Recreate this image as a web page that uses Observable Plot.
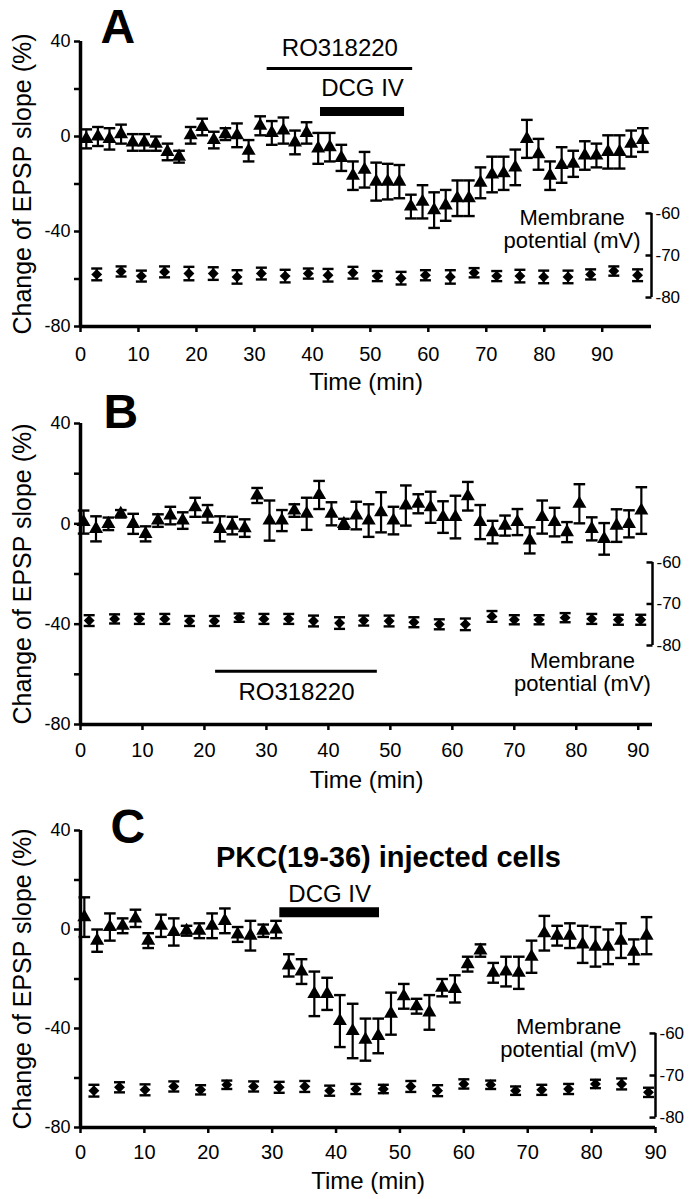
<!DOCTYPE html>
<html><head><meta charset="utf-8">
<script src="https://cdn.jsdelivr.net/npm/d3@7"></script>
<script src="https://cdn.jsdelivr.net/npm/@observablehq/plot@0.6"></script>
<style>
body{margin:0;background:#fff;}
#chart{width:694px;}
#chart svg{display:block;}
</style></head><body><div id="chart"></div>
<script>
// ---------- Panel A ----------
const triTimeA = [1,3,5,7,9,11,13,15,17,19,21,23,25,27,29,31,33,35,37,39,41,43,45,47,49,51,53,55,57,59,61,63,65,67,69,71,73,75,77,79,81,83,85,87,89,91,93,95,97];
const triValA = [-1,0,-1,1,-2.5,-2.5,-3,-6.5,-8.5,0.5, 4,-1.5,1,0.5,-6,4.5,1.5,2.5,-2.5,1.5, -5,-4.5,-9,-16.5,-14,-19,-19,-19,-29.5,-27.5, -31,-29,-26,-26,-19.5,-16,-15.5,-13,-1,-7.5, -16.5,-12,-11.5,-8,-8,-6.5,-6.5,-3,-1.5];
const triErrA = [4,4,4.5,4,3.5,3.5,3,3.5,2.5,3.5, 3.5,3.5,2.5,5,4.5,4,5,5.5,5,4.5, 6.5,6,5.5,6,7.5,8,7.5,7,5,7, 7.5,6.5,7.5,7.5,6.5,7.5,7,7.5,8,6.5, 6,7.5,5.5,6,5,7,7,5.5,5];
const diaTimeA = [2.8,7,10.5,14.5,18.7,22.9,27,31.2,35.3,39.3,42.7,47,51.2,55.3,59.5,63.8,67.9,71.8,75.8,79.9,84.1,88,92,96.1];
const diaMvA = [-74.5,-73.8,-74.9,-73.9,-74.3,-74.3,-75.1,-74.3,-74.9,-74.3,-74.7,-74.1,-74.9,-75.4,-74.7,-75.1,-74.1,-74.9,-74.9,-75.1,-75.1,-74.5,-73.7,-74.7];
const diaErrA = [1.4,1.2,1.3,1.3,1.6,1.5,1.6,1.4,1.5,1.2,1.5,1.4,1.2,1.5,1.2,1.6,1.1,1.2,1.5,1.5,1.5,1.2,1.1,1.4];
const xTicksA = [0,10,20,30,40,50,60,70,80,90];
const barsA = [
  {label: "RO318220", x1: 32.2, x2: 57.3, y: 28.6, textY: 37, w: 3},
  {label: "DCG IV", x1: 41.4, x2: 55.9, y: 10.5, textY: 20.2, w: 9}
];

// ---------- Panel B ----------
const triTimeB = [0.5,2.5,4.5,6.5,8.5,10.5,12.5,14.5,16.5,18.5,20.5,22.5,24.5,26.5,28.5,30.5,32.5,34.5,36.5,38.5,40.5,42.5,44.5,46.5,48.5,50.5,52.5,54.5,56.5,58.5,60.5,62.5,64.5,66.5,68.5,70.5,72.5,74.5,76.5,78.5,80.5,82.5,84.5,86.5,88.5,90.5];
const triValB = [0.7,-2,0,4,0,-4,1.3,3.3,1.3,6.6, 4,-2,-0.7,-1.7,11.3,1.3,1.3,5.3,4,11.5, 4,0,3.3,1.3,4.6,1.3,7.3,8,6.6,2.7, 2.7,11,0.7,-3.3,-0.7,0.7,-6.6,2.7,0.7,-3.3, 8,-2,-6,-0.7,0,5.3];
const triErrB = [4.6,5,2.5,1.5,4,3,2.5,3.5,3.3,3.8, 3.5,5,3.5,3.5,3,8,4.2,2.5,6.4,5.6, 4.6,2,5.5,6.5,8,5.5,8,3.8,6.2,6.3, 8.5,5.7,6.8,4.5,4,5.2,5.2,6.6,5.7,4, 7.8,4.6,6.3,6.5,5.4,9.3];
const diaTimeB = [1.4,5.5,9.5,13.6,17.6,21.6,25.6,29.6,33.6,37.6,41.8,45.7,49.8,53.8,57.9,62.1,66.4,70,74,78.2,82.5,86.8,90.4];
const diaMvB = [-74,-73.6,-73.6,-73.6,-74.1,-74.1,-73.3,-73.6,-73.6,-74.1,-74.6,-74,-74.1,-74.4,-74.9,-74.9,-73,-73.8,-73.8,-73.3,-73.6,-73.8,-73.8];
const diaErrB = [1.3,1.1,1.2,1.2,1.2,1.2,1.0,1.2,1.2,1.3,1.4,1.2,1.3,1.2,1.2,1.4,1.3,1.1,1.1,1.1,1.2,1.2,1.2];
const xTicksB = [0,10,20,30,40,50,60,70,80,90];
const barsB = [
  {label: "RO318220", x1: 21.8, x2: 47.9, y: -58.8, textY: -67.1, w: 3}
];

// ---------- Panel C ----------
const triTimeC = [0.6,2.6,4.6,6.6,8.6,10.6,12.6,14.6,16.6,18.6,20.6,22.6,24.6,26.6,28.6,30.6,32.6,34.6,36.6,38.6,40.6,42.6,44.6,46.6,48.6,50.6,52.6,54.6,56.6,58.6,60.6,62.6,64.6,66.6,68.6,70.6,72.6,74.6,76.6,78.6,80.6,82.6,84.6,86.6,88.6];
const triValC = [5,-4.5,1,1.5,4.5,-4.5,1.5,-1,-0.5,-0.5, 1.5,3.5,-2,-2.5,-0.5,0,-14.5,-17,-26,-26, -37,-41,-44.5,-43,-34,-27,-31,-33.5,-23.5,-24, -14,-8.5,-17.5,-17,-17.5,-11,-1.5,-2.5,-2.5,-6, -7,-7,-4.5,-9,-2.5];
const triErrC = [8,4.5,5.5,3,3.5,3,4.5,5.5,2,3, 5,5,3,6,2.5,3.5,4.5,5,9,6.5, 10.5,11,8.5,7,8.5,5,3,7,3.5,5.5, 3,2.5,4,6,6.5,6.5,7,4,5,7.5, 8,7,7,5,7.5];
const diaTimeC = [2.1,6.1,10.1,14.6,18.8,22.9,27.1,31.1,35.1,39,43.1,47.4,51.7,55.9,60,64.2,68.1,72.2,76.4,80.6,84.7,88.9];
const diaMvC = [-73.6,-72.8,-73.4,-72.6,-73.4,-72.2,-72.6,-72.8,-72.6,-73.6,-73.2,-73.2,-72.6,-73.6,-72,-72.2,-73.6,-73.4,-73.2,-72,-72,-74];
const diaErrC = [1.4,1.2,1.3,1.2,1.1,1.0,1.2,1.3,1.3,1.2,1.2,1.0,1.3,1.3,1.1,1.0,1.0,1.2,1.2,1.0,1.3,1.1];
const xTicksC = [0,10,20,30,40,50,60,70,80,90];
const barsC = [
  {label: "DCG IV", x1: 31.2, x2: 46.8, y: 7.0, textY: 14.4, w: 10}
];

// shared axis values
const yTicks = [40,20,0,-20,-40,-60,-80];
const yLabelled = [40,0,-40,-80];
const mvTicks = [-60,-70,-80];
const yTitle = "Change of EPSP slope (%)";
const xTitle = "Time (min)";
const memLabel = "Membrane\npotential (mV)";

const FONT = "'Liberation Sans', Arial, Helvetica, sans-serif";

const capSymbol = {draw(ctx, size) { const r = Math.sqrt(size / Math.PI); ctx.moveTo(-r, 0); ctx.lineTo(r, 0); }};
const leftTickSymbol = {draw(ctx, size) { const r = Math.sqrt(size / Math.PI); ctx.moveTo(-r, 0); ctx.lineTo(0, 0); }};

function panel(cfg) {
  const toPct = d3.scaleLinear().domain([-60, -80]).range(cfg.mvPct);
  const tri = cfg.triT.map((t, i) => ({t, v: cfg.triV[i], e: cfg.triE[i]}));
  const dia = cfg.diaT.map((t, i) => ({t, v: toPct(cfg.diaMv[i]), hi: toPct(cfg.diaMv[i] + cfg.diaE[i]), lo: toPct(cfg.diaMv[i] - cfg.diaE[i])}));
  const xEnd = cfg.xDomain[1];
  const marks = [
    // axes
    Plot.axisY({ticks: yTicks, tickFormat: d => yLabelled.includes(d) ? String(d) : "", tickSize: 6, tickPadding: 4, fontSize: 18, strokeWidth: 2.5, label: null}),
    Plot.axisX({ticks: cfg.xTicks, tickFormat: d => String(d), tickSize: 6, tickPadding: cfg.xTickPad, fontSize: 20, strokeWidth: 2.5, label: null}),
    Plot.ruleX([0], {y1: -80, y2: 40, strokeWidth: 3.5}),
    Plot.ruleY([-80], {strokeWidth: 3.5}),
    Plot.text([yTitle], {frameAnchor: "left", rotate: -90, dx: -58, fontSize: 25, textAnchor: "middle", lineAnchor: "middle"}),
    Plot.text([xTitle], {frameAnchor: "bottom", dy: cfg.xTitleDy, fontSize: 24, lineAnchor: "middle"}),
    Plot.text([cfg.letter], {frameAnchor: "top-left", dx: cfg.letterDx, dy: cfg.letterDy, fontSize: 48, fontWeight: "bold", textAnchor: "start", lineAnchor: "middle"}),
    // membrane potential axis (bracket)
    Plot.ruleX([xEnd], {y1: toPct(-80), y2: toPct(-60), strokeWidth: 2.5}),
    Plot.dot(mvTicks, {x: xEnd, y: d => toPct(d), symbol: leftTickSymbol, r: 6, stroke: "black", strokeWidth: 2.5, fill: "none"}),
    Plot.axisY({anchor: "right", ticks: mvTicks.map(d => toPct(d)), tickFormat: v => String(Math.round(toPct.invert(v))), tickSize: 0, tickPadding: 4, fontSize: 17, label: null}),
    Plot.text([memLabel], {x: cfg.memX, y: cfg.memY, fontSize: 22, lineHeight: 1.05, textAnchor: "middle", lineAnchor: "middle"}),
    // drug bars
    Plot.ruleY(cfg.bars, {x1: "x1", x2: "x2", y: "y", strokeWidth: "w"}),
    Plot.text(cfg.bars, {x: d => (d.x1 + d.x2) / 2, y: "textY", text: "label", fontSize: 24, lineAnchor: "middle"}),
    // membrane potential diamonds
    Plot.ruleX(dia, {x: "t", y1: "lo", y2: "hi", strokeWidth: 2.2}),
    Plot.dot(dia, {x: "t", y: "hi", symbol: capSymbol, r: 5.5, stroke: "black", strokeWidth: 2.4, fill: "none"}),
    Plot.dot(dia, {x: "t", y: "lo", symbol: capSymbol, r: 5.5, stroke: "black", strokeWidth: 2.4, fill: "none"}),
    Plot.dot(dia, {x: "t", y: "v", symbol: "diamond2", r: 4.9, fill: "black", stroke: "none"}),
    // EPSP triangles
    Plot.ruleX(tri, {x: "t", y1: d => d.v - d.e, y2: d => d.v + d.e, strokeWidth: 2.2}),
    Plot.dot(tri, {x: "t", y: d => d.v + d.e, symbol: capSymbol, r: 5.8, stroke: "black", strokeWidth: 2.4, fill: "none"}),
    Plot.dot(tri, {x: "t", y: d => d.v - d.e, symbol: capSymbol, r: 5.8, stroke: "black", strokeWidth: 2.4, fill: "none"}),
    Plot.dot(tri, {x: "t", y: "v", symbol: "triangle", r: 5.2, fill: "black", stroke: "none"})
  ];
  if (cfg.titleObj) marks.push(Plot.text([cfg.titleObj], {x: "x", y: "y", text: "text", fontSize: 29, fontWeight: "bold", lineAnchor: "middle"}));
  return Plot.plot({
    width: 694, height: cfg.height,
    marginTop: cfg.mt, marginBottom: cfg.mb, marginLeft: 80, marginRight: cfg.mr,
    x: {domain: cfg.xDomain},
    y: {domain: [-80, 40]},
    style: {fontFamily: FONT, background: "white", color: "black", overflow: "visible"},
    marks
  });
}

const chart = document.getElementById("chart");
chart.append(panel({
  letter: "A", letterDx: 20, letterDy: -13.5,
  height: 395, mt: 41, mb: 69, mr: 43, xDomain: [0, 98.5], xTicks: xTicksA, xTitleDy: 56, xTickPad: 14,
  triT: triTimeA, triV: triValA, triE: triErrA,
  diaT: diaTimeA, diaMv: diaMvA, diaE: diaErrA,
  mvPct: [-32.4, -67.8], memX: 84.8, memY: -38.9, bars: barsA
}));
chart.append(panel({
  letter: "B", letterDx: 23, letterDy: -10.5,
  height: 395, mt: 28, mb: 66, mr: 42, xDomain: [0, 92.3], xTicks: xTicksB, xTitleDy: 56, xTickPad: 12,
  triT: triTimeB, triV: triValB, triE: triErrB,
  diaT: diaTimeB, diaMv: diaMvB, diaE: diaErrB,
  mvPct: [-15.4, -48.5], memX: 81, memY: -59.2, bars: barsB
}));
chart.append(panel({
  letter: "C", letterDx: 30, letterDy: -2.5,
  height: 409, mt: 40, mb: 72, mr: 39, xDomain: [0, 90], xTicks: xTicksC, xTitleDy: 54, xTickPad: 11,
  triT: triTimeC, triV: triValC, triE: triErrC,
  diaT: diaTimeC, diaMv: diaMvC, diaE: diaErrC,
  mvPct: [-42.0, -76.0], memX: 76.4, memY: -43.8, bars: barsC,
  titleObj: {text: "PKC(19-36) injected cells", x: 48.2, y: 29.1}
}));
</script></body></html>
